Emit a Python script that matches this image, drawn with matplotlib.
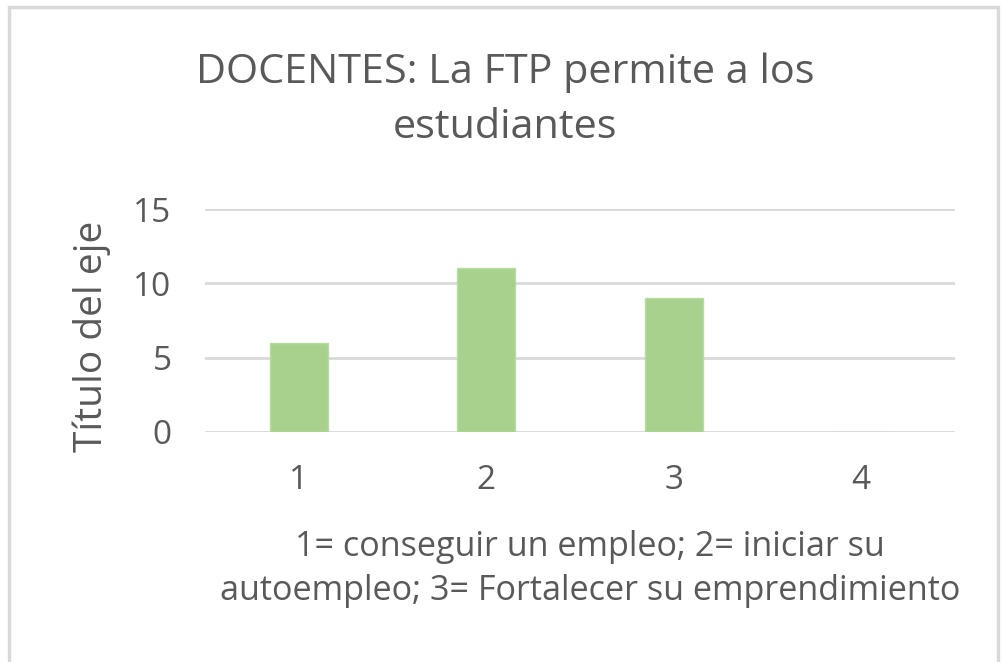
import matplotlib.pyplot as plt
from matplotlib.patches import Rectangle

# Chart data
categories = ['1', '2', '3', '4']
values = [6, 11, 9, 0]
title = 'DOCENTES: La FTP permite a los\nestudiantes'
x_title = '1= conseguir un empleo; 2= iniciar su\nautoempleo; 3= Fortalecer su emprendimiento'
y_title = 'Título del eje'

text_color = '#595959'
plt.rcParams['font.family'] = ['Open Sans', 'DejaVu Sans']

fig = plt.figure(figsize=(10.02, 6.62), dpi=100)
W, H = 1002, 662
ax = fig.add_axes([205 / W, 1 - 432 / H, 750 / W, (432 - 209) / H])

pos = range(1, len(categories) + 1)
ax.bar(pos, values, width=0.31, color='#a9d18e', edgecolor='#b8dca0', linewidth=1, zorder=3)

ax.set_xlim(0.5, 4.5)
ax.set_ylim(0, 15)
ax.set_yticks([0, 5, 10, 15])
ax.set_xticks(list(pos))
ax.set_xticklabels(categories)
ax.grid(axis='y', color='#d9d9d9', linewidth=2, zorder=0)
ax.set_axisbelow(True)
for s in ax.spines.values():
    s.set_visible(False)
ax.tick_params(axis='both', length=0, labelsize=24, colors=text_color)
ax.tick_params(axis='y', pad=24)
ax.tick_params(axis='x', pad=23)

# axis titles and chart title
fig.text(92 / W, 1 - 336 / H, y_title, rotation=90, ha='center', va='center',
         fontsize=28, color=text_color)
fig.text(590 / W, 1 - 569 / H, x_title, ha='center', va='center', fontsize=24.6,
         color=text_color, linespacing=1.41, multialignment='center')
fig.text(505 / W, 1 - 100 / H, title, ha='center', va='center', fontsize=29.8,
         color=text_color, linespacing=1.49, multialignment='center')

fig.patches.append(Rectangle((9 / W, -0.05), 989 / W, 1.05 - 7 / H, transform=fig.transFigure,
                             fill=False, edgecolor='#d9d9d9', linewidth=2.5))

fig.savefig('out.png', dpi=100)
